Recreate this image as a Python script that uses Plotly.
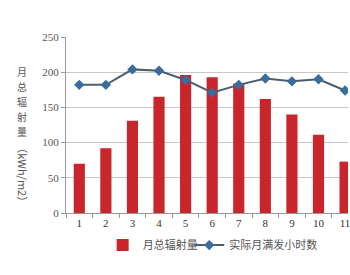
import plotly.graph_objects as go

months = ["1", "2", "3", "4", "5", "6", "7", "8", "9", "10", "11"]
radiation = [70, 92, 131, 165, 196, 193, 184, 162, 140, 111, 73]
full_hours = [182, 182, 204, 202, 189, 171, 182, 191, 187, 190, 174]
ytitle_chars = ["月", "总", "辐", "射", "量"]
ytitle_unit = "（kWh/m2）"

fig = go.Figure()
fig.add_trace(go.Bar(
    x=months, y=radiation, name="月总辐射量", legend="legend",
    marker=dict(color="#C9252C", line=dict(width=0)), width=0.42,
))
fig.add_trace(go.Scatter(
    x=months, y=full_hours, name="实际月满发小时数", mode="lines+markers",
    legend="legend2",
    line=dict(color="#4B5D6E", width=2),
    marker=dict(symbol="diamond", size=8, color="#3A6D9E"),
))

legend_style = dict(orientation="h", y=-0.10, xanchor="left", yanchor="top",
                    font=dict(family="Noto Sans CJK SC", size=11, color="#555"),
                    itemwidth=30, bgcolor="rgba(0,0,0,0)")

fig.update_layout(
    width=350, height=275,
    margin=dict(l=66, r=0, t=37, b=62),
    paper_bgcolor="white", plot_bgcolor="white",
    font=dict(family="Liberation Serif", size=11, color="#444"),
    showlegend=True,
    legend=dict(x=0.13, **legend_style),
    legend2=dict(x=0.437, **legend_style),
    xaxis=dict(type="category", range=[-0.5, 10.11], showgrid=False,
               showline=True, linecolor="#999", linewidth=1,
               ticks="outside", tickson="boundaries", ticklen=4, tickcolor="#999",
               tickfont=dict(family="Liberation Serif", size=11, color="#333")),
    yaxis=dict(range=[0, 250], dtick=50, showgrid=True, gridcolor="#C8C8C8",
               showline=True, linecolor="#999", linewidth=1,
               ticks="outside", ticklen=4, tickcolor="#999", zeroline=False,
               tickfont=dict(family="Liberation Serif", size=11, color="#555")),
    bargap=0.5,
)

for i, ch in enumerate(ytitle_chars):
    fig.add_annotation(text=ch, xref="paper", yref="paper",
                       x=-0.155, y=0.853 - i * 0.085, xanchor="center", yanchor="top",
                       showarrow=False, borderpad=0,
                       font=dict(family="Noto Sans CJK SC", size=10, color="#555"))
fig.add_annotation(text=ytitle_unit, xref="paper", yref="paper", textangle=90,
                   x=-0.155, y=0.415, xanchor="center", yanchor="top", showarrow=False,
                   font=dict(family="Noto Sans CJK SC", size=11, color="#555"))

fig.write_html("out.html")
